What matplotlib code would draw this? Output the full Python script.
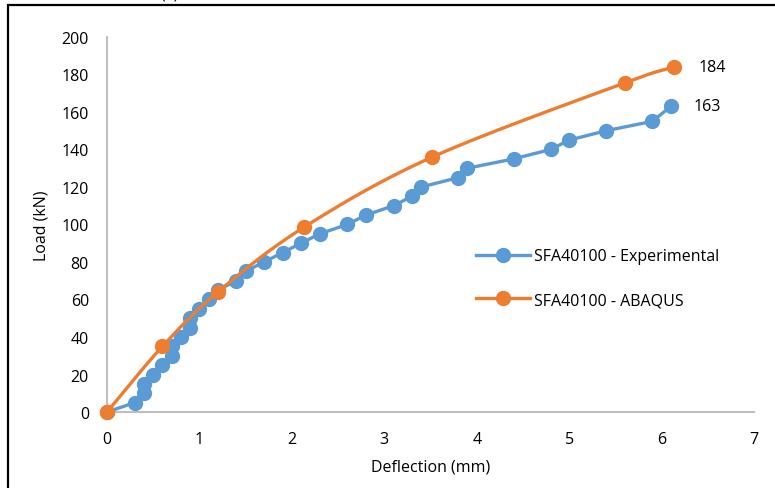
import numpy as np
import matplotlib.pyplot as plt
from matplotlib.patches import Rectangle

plt.rcParams['font.family'] = ['Open Sans', 'DejaVu Sans']

# experimental curve
exp_defl = [0, 0.3, 0.4, 0.4, 0.5, 0.6, 0.7, 0.7, 0.8, 0.9, 0.9, 1.0, 1.1, 1.2,
            1.4, 1.5, 1.7, 1.9, 2.1, 2.3, 2.6, 2.8, 3.1, 3.3, 3.4, 3.8, 3.9,
            4.4, 4.8, 5.0, 5.4, 5.9, 6.1]
exp_load = [0, 5, 10, 15, 20, 25, 30, 35, 40, 45, 50, 55, 60, 65,
            70, 75, 80, 85, 90, 95, 100, 105, 110, 115, 120, 125, 130,
            135, 140, 145, 150, 155, 163]

# ABAQUS curve
fe_defl = [0, 0.6, 1.2, 2.13, 3.52, 5.6, 6.13]
fe_load = [0, 35, 64, 98.5, 136, 175.5, 184]

blue = '#5B9BD5'
orange = '#ED7D31'
fs = 11.5


def smooth(x, y, n=30):
    # catmull-rom style smoothing like Excel's "smoothed line"
    x = np.asarray(x, float)
    y = np.asarray(y, float)
    px = np.concatenate([[2 * x[0] - x[1]], x, [2 * x[-1] - x[-2]]])
    py = np.concatenate([[2 * y[0] - y[1]], y, [2 * y[-1] - y[-2]]])
    xs, ys = [], []
    t = np.linspace(0, 1, n)
    for i in range(1, len(px) - 2):
        for p, out in ((px, xs), (py, ys)):
            p0, p1, p2, p3 = p[i - 1], p[i], p[i + 1], p[i + 2]
            out.extend(0.5 * ((2 * p1) + (-p0 + p2) * t
                              + (2 * p0 - 5 * p1 + 4 * p2 - p3) * t ** 2
                              + (-p0 + 3 * p1 - 3 * p2 + p3) * t ** 3))
    return xs, ys


fig = plt.figure(figsize=(7.75, 4.89), dpi=100)
ax = fig.add_axes([0.138, 0.1554, 0.835, 0.767])

ax.plot(exp_defl, exp_load, color=blue, lw=2.4, marker='o', ms=10,
        label='SFA40100 - Experimental', zorder=3, clip_on=False)
sx, sy = smooth(fe_defl, fe_load)
ax.plot(sx, sy, color=orange, lw=2.4, zorder=4)
ax.plot(fe_defl, fe_load, color=orange, lw=0, marker='o', ms=10, zorder=4,
        clip_on=False)
ax.plot([], [], color=orange, lw=2.4, marker='o', ms=10, label='SFA40100 - ABAQUS')

ax.text(6.13 + 0.27, 184, '184', fontsize=fs, va='center')
ax.text(6.1 + 0.24, 163, '163', fontsize=fs, va='center')

ax.set_xlim(0, 7)
ax.set_ylim(0, 200)
ax.set_xticks(range(0, 8))
ax.set_yticks(range(0, 201, 20))
ax.tick_params(length=0, labelsize=fs, colors='#000000')
ax.tick_params(axis='y', pad=13)
ax.tick_params(axis='x', pad=14)
for s in ['top', 'right']:
    ax.spines[s].set_visible(False)
for s in ['left', 'bottom']:
    ax.spines[s].set_color('#BFBFBF')
    ax.spines[s].set_linewidth(1.5)
ax.set_xlabel('Deflection (mm)', fontsize=fs, labelpad=8)
ax.set_ylabel('Load (kN)', fontsize=fs, labelpad=9)

ax.legend(loc='center left', bbox_to_anchor=(0.548, 0.357), frameon=False,
          fontsize=fs, handlelength=3.4, labelspacing=1.75, handletextpad=0.25)

fig.add_artist(Rectangle((8 / 775, -0.1), 1.2, 1 - 6 / 489 + 0.1,
                         transform=fig.transFigure, fill=False,
                         edgecolor='black', lw=1.6))
fig.text(170 / 775, 1.012, '(a)', fontsize=fs, ha='center', va='center')

fig.savefig('out.png', dpi=100)
